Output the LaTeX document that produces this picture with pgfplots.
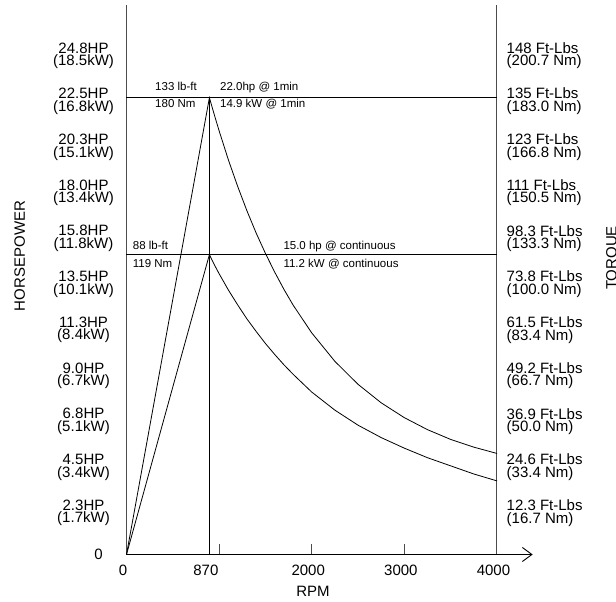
\documentclass[border=0pt]{standalone}
\usepackage{fontspec}
\setmainfont{Liberation Sans}
\usepackage{pgfplots}
\pgfplotsset{compat=1.18}
\usetikzlibrary{arrows.meta}

\pgfplotsset{
  base/.style={
    scale only axis, width=370.5pt, height=549.5pt,
    xmin=0, xmax=4000, ymin=0, ymax=27.03,
    at={(0,0)}, anchor=south west,
    axis line style={draw=none}, major tick length=0pt,
    clip=false,
  },
  hpticks/.style={ytick={2.25,4.5,6.75,9,11.25,13.5,15.75,18,20.25,22.5,24.75}},
  curve/.style={black, line width=0.8pt, no markers},
}
\newcommand\lblfont{\fontsize{15}{12.5}\selectfont}
\newcommand\notefont{\fontsize{11.5}{13}\selectfont}

\begin{document}
\begin{tikzpicture}
\begin{axis}[base, hpticks,
  xtick={0,895,2000,3000,4000},
  xticklabels={0,870,2000,3000,4000},
  xticklabel style={anchor=base, yshift=-21.5pt, xshift=-3.5pt, font=\lblfont},
  yticklabels={{2.3HP\\(1.7kW)},{4.5HP\\(3.4kW)},{6.8HP\\(5.1kW)},{9.0HP\\(6.7kW)},
    {11.3HP\\(8.4kW)},{13.5HP\\(10.1kW)},{15.8HP\\(11.8kW)},{18.0HP\\(13.4kW)},
    {20.3HP\\(15.1kW)},{22.5HP\\(16.8kW)},{24.8HP\\(18.5kW)}},
  yticklabel style={anchor=center, align=center, xshift=-43pt, yshift=-4.25pt, font=\lblfont},
]
% axis frame
\draw[gray!60!black, line width=1pt] (axis cs:0,0) -- (axis cs:0,27.03);
\draw[gray!60!black, line width=1pt] (axis cs:4000,0) -- (axis cs:4000,27.03);
\draw[black, line width=0.9pt, -{Straight Barb[length=9.5pt,width=14pt]}] (axis cs:0,0) -- (axis cs:4385,0);
\draw[gray!60!black, line width=1.2pt] (axis cs:1000,0) -- (axis cs:1000,0.54);
\draw[gray!60!black, line width=1.2pt] (axis cs:2000,0) -- (axis cs:2000,0.54);
\draw[gray!60!black, line width=1.2pt] (axis cs:3000,0) -- (axis cs:3000,0.54);

% 1 min and continuous levels
\addplot[curve] coordinates {(0,22.47) (4000,22.47)};
\addplot[curve] coordinates {(0,14.75) (4000,14.75)};
\addplot[curve] coordinates {(895,0) (895,22.47)};

% 1 min curve
\addplot[curve] coordinates {
(0,0) (895,22.47) (950,21.60) (1000,20.84) (1100,19.41) (1200,18.11)
(1300,16.91) (1400,15.81) (1500,14.81) (1600,13.89) (1700,13.04)
(1800,12.26) (2000,10.90) (2250,9.50) (2500,8.37) (2750,7.46)
(3000,6.73) (3250,6.14) (3500,5.66) (3750,5.28) (4000,4.97)};

% continuous curve
\addplot[curve] coordinates {
(0,0) (895,14.75) (950,14.24) (1000,13.81) (1100,13.01) (1200,12.28)
(1300,11.59) (1400,10.97) (1500,10.38) (1600,9.84) (1700,9.33)
(1800,8.86) (2000,7.99) (2250,7.10) (2500,6.36) (2750,5.75)
(3000,5.23) (3250,4.76) (3500,4.36) (3750,3.96) (4000,3.62)};

\node[anchor=base west, inner sep=0, font=\notefont] at (axis cs:308,22.81) {133 lb-ft};
\node[anchor=base west, inner sep=0, font=\notefont] at (axis cs:308,22.01) {180 Nm};
\node[anchor=base west, inner sep=0, font=\notefont] at (axis cs:1009,22.81) {22.0hp @ 1min};
\node[anchor=base west, inner sep=0, font=\notefont] at (axis cs:1009,22.01) {14.9 kW @ 1min};
\node[anchor=base west, inner sep=0, font=\notefont] at (axis cs:67,15.01) {88 lb-ft};
\node[anchor=base west, inner sep=0, font=\notefont] at (axis cs:67,14.13) {119 Nm};
\node[anchor=base west, inner sep=0, font=\notefont] at (axis cs:1693,15.01) {15.0 hp @ continuous};
\node[anchor=base west, inner sep=0, font=\notefont] at (axis cs:1693,14.13) {11.2 kW @ continuous};
\end{axis}

\begin{axis}[base, hpticks, xtick=\empty,
  yticklabel pos=right,
  yticklabels={{12.3 Ft-Lbs\\(16.7 Nm)},{24.6 Ft-Lbs\\(33.4 Nm)},{36.9 Ft-Lbs\\(50.0 Nm)},
    {49.2 Ft-Lbs\\(66.7 Nm)},{61.5 Ft-Lbs\\(83.4 Nm)},{73.8 Ft-Lbs\\(100.0 Nm)},
    {98.3 Ft-Lbs\\(133.3 Nm)},{111 Ft-Lbs\\(150.5 Nm)},{123 Ft-Lbs\\(166.8 Nm)},
    {135 Ft-Lbs\\(183.0 Nm)},{148 Ft-Lbs\\(200.7 Nm)}},
  yticklabel style={anchor=west, align=left, inner sep=0pt, xshift=9.5pt, yshift=-4.25pt, font=\lblfont},
]
\end{axis}

\node[rotate=90, anchor=base, inner sep=0, font=\lblfont] at (-101.5pt,298.5pt) {HORSEPOWER};
\node[rotate=90, anchor=base, inner sep=0, font=\lblfont] at (490pt,296.5pt) {TORQUE};
\node[anchor=base, inner sep=0, font=\lblfont] at (186.5pt,-42.5pt) {RPM};
\node[anchor=center, inner sep=0, font=\lblfont] at (-28pt,0.5pt) {0};

\pgfresetboundingbox
\path[use as bounding box] (-126.5pt,-47.5pt) rectangle (489.5pt,554.5pt);
\end{tikzpicture}
\end{document}
